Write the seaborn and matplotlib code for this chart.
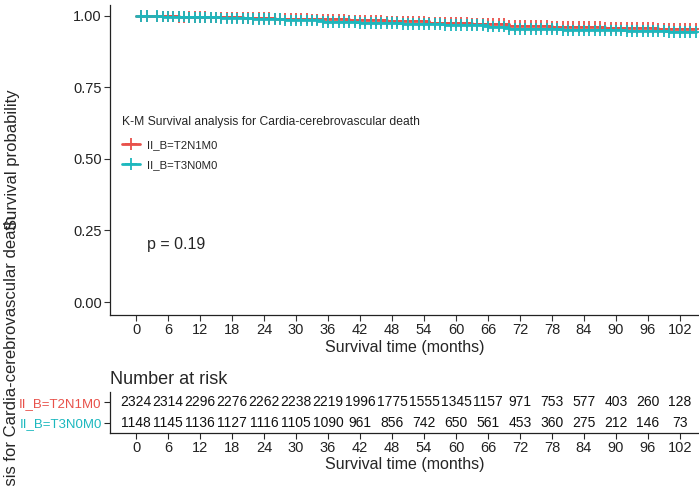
import numpy as np
import pandas as pd
import matplotlib
matplotlib.use("Agg")
import matplotlib.pyplot as plt
from matplotlib.lines import Line2D
import seaborn as sns

# KM step data
groups = ["II_B=T2N1M0", "II_B=T3N0M0"]
colors = ["#E8514A", "#1CB8BE"]

t2_time = [0, 3, 8, 14, 20, 26, 33, 40, 47, 55, 63, 70, 78, 88, 98, 105]
t2_surv = [1.0, 0.998, 0.996, 0.994, 0.992, 0.990, 0.987, 0.984, 0.980, 0.976,
           0.971, 0.965, 0.961, 0.958, 0.955, 0.955]
t3_time = [0, 5, 10, 16, 22, 28, 35, 42, 50, 58, 66, 70, 80, 92, 100, 105]
t3_surv = [1.0, 0.997, 0.994, 0.991, 0.988, 0.984, 0.979, 0.974, 0.971, 0.967,
           0.962, 0.953, 0.949, 0.946, 0.944, 0.944]

# censoring marks (months)
censor_months = [1, 2, 4, 5, 6, 7, 8, 9, 10, 11, 12, 13, 14, 15, 16, 17, 18, 19,
                 20, 21, 22, 23, 24, 25, 26, 27, 28, 29, 30, 31, 32, 33, 34, 35,
                 36, 37, 38, 39, 40, 41, 42, 43, 44, 45, 46, 47, 48, 49, 50, 51,
                 52, 53, 54, 55, 56, 57, 58, 59, 60, 61, 62, 63, 64, 65, 66, 67,
                 68, 69, 70, 71, 72, 73, 74, 75, 76, 77, 78, 79, 80, 81, 82, 83,
                 84, 85, 86, 87, 88, 89, 90, 91, 92, 93, 94, 95, 96, 97, 98, 99,
                 100, 101, 102, 103, 104, 105]

risk_times = [0, 6, 12, 18, 24, 30, 36, 42, 48, 54, 60, 66, 72, 78, 84, 90, 96, 102]
risk_t2 = [2324, 2314, 2296, 2276, 2262, 2238, 2219, 1996, 1775, 1555, 1345, 1157,
           971, 753, 577, 403, 260, 128]
risk_t3 = [1148, 1145, 1136, 1127, 1116, 1105, 1090, 961, 856, 742, 650, 561,
           453, 360, 275, 212, 146, 73]

sns.set_style("white")
plt.rcParams['font.family'] = ['Liberation Sans', 'DejaVu Sans']

curves = pd.concat([
    pd.DataFrame({"time": t2_time, "surv": t2_surv, "group": groups[0]}),
    pd.DataFrame({"time": t3_time, "surv": t3_surv, "group": groups[1]}),
])

def surv_at(times, survs, t):
    idx = np.searchsorted(times, t, side="right") - 1
    return np.asarray(survs)[idx]

marks = pd.concat([
    pd.DataFrame({"time": censor_months,
                  "surv": surv_at(t2_time, t2_surv, censor_months), "group": groups[0]}),
    pd.DataFrame({"time": censor_months,
                  "surv": surv_at(t3_time, t3_surv, censor_months), "group": groups[1]}),
])

fig = plt.figure(figsize=(6.99, 4.86), dpi=100)
ax = fig.add_axes([0.1574, 0.352, 0.8426, 0.638])
pal = dict(zip(groups, colors))

sns.lineplot(data=curves, x="time", y="surv", hue="group", palette=pal,
             drawstyle="steps-post", linewidth=2, legend=False, ax=ax,
             estimator=None, sort=False)
sns.scatterplot(data=marks, x="time", y="surv", hue="group", palette=pal,
                marker="+", s=70, linewidth=1.3, legend=False, ax=ax, zorder=3)

ax.set_xlim(-4.9, 105.6)
ax.set_ylim(-0.045, 1.038)
ax.set_xticks(risk_times)
ax.set_yticks([0, 0.25, 0.5, 0.75, 1.0])
ax.set_yticklabels(["0.00", "0.25", "0.50", "0.75", "1.00"])
ax.tick_params(axis="both", length=4, width=0.8, color="#333333", labelsize=10.5,
               labelcolor="#222222", bottom=True, left=True, pad=2)
for s in ["top", "right"]:
    ax.spines[s].set_visible(False)
for s in ["left", "bottom"]:
    ax.spines[s].set_color("#222222")
    ax.spines[s].set_linewidth(0.9)
ax.set_xlabel("Survival time (months)", fontsize=11.5, labelpad=2)
ax.set_ylabel("Survival probability", fontsize=12)
ax.yaxis.set_label_coords(-0.152, 0.5)

handles = [Line2D([], [], color=c, marker="+", markersize=9, linewidth=2,
                  markeredgewidth=1.3) for c in colors]
leg = ax.legend(handles, groups, title="K-M Survival analysis for Cardia-cerebrovascular death",
                loc="upper left", bbox_to_anchor=(0.008, 0.664), frameon=False,
                fontsize=8.2, title_fontsize=8.7, handlelength=1.6, labelspacing=0.85,
                borderaxespad=0.2, handletextpad=0.6)
leg._legend_box.align = "left"
leg._legend_box.sep = 9

ax.text(2.0, 0.2, "p = 0.19", va="center", fontsize=11.5)

# risk table
rax = fig.add_axes([0.1574, 0.109, 0.8426, 0.084])
for row, vals in enumerate([risk_t3, risk_t2]):
    for t, v in zip(risk_times, vals):
        rax.text(t, row, str(v), ha="center", va="center", fontsize=10, color="#111111")
rax.set_xlim(-4.9, 105.6)
rax.set_ylim(-0.48, 1.48)
rax.set_xticks(risk_times)
rax.set_yticks([0, 1])
rax.set_yticklabels([groups[1], groups[0]])
for lbl, c in zip(rax.get_yticklabels(), [colors[1], colors[0]]):
    lbl.set_color(c)
rax.tick_params(axis="y", length=4, width=0.8, labelsize=9.5, pad=2, left=True)
rax.tick_params(axis="x", length=4, width=0.8, labelsize=10.5, labelcolor="#222222",
                bottom=True, pad=2)
for s in ["top", "right"]:
    rax.spines[s].set_visible(False)
for s in ["left", "bottom"]:
    rax.spines[s].set_color("#222222")
    rax.spines[s].set_linewidth(0.9)
rax.set_xlabel("Survival time (months)", fontsize=11.5, labelpad=1)
rax.set_title("Number at risk", loc="left", fontsize=13, x=0.0, pad=6)

# overall y label of the survplot, partly cut off
fig.text(0.017, 1 - 216 / 486, "K-M Survival analysis for Cardia-cerebrovascular death",
         rotation=90, ha="center", va="top", fontsize=12)

fig.savefig("out.png", dpi=100)
